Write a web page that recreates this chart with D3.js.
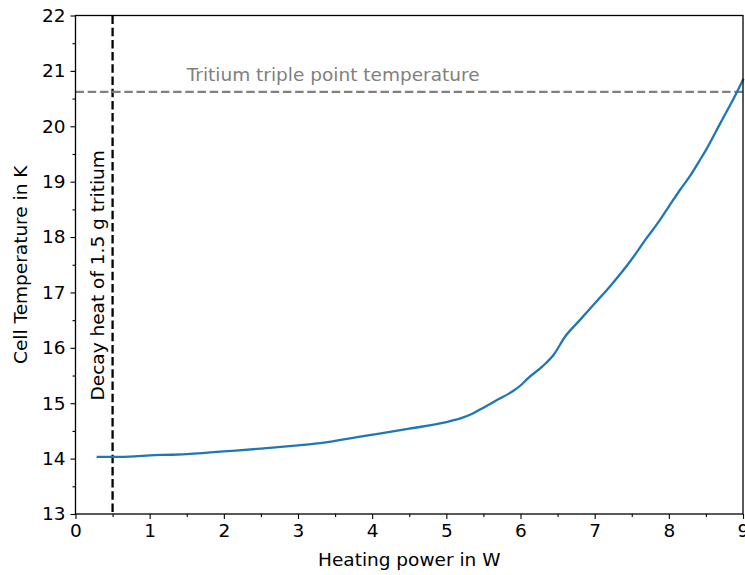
<!DOCTYPE html>
<html>
<head>
<meta charset="utf-8">
<style>
  body { margin: 0; background: white; }
  svg { font-family: 'DejaVu Sans', sans-serif; display: block; }
</style>
</head>
<body>
<div id="chart"></div>
<script src="https://d3js.org/d3.v7.min.js"></script>
<script>
// heating power (W) vs cell temperature (K)
const power = [0.3, 0.5, 0.8, 1.0, 1.3, 1.6, 2.0, 2.5, 3.0, 3.3, 3.9, 4.5, 5.0, 5.2, 5.35, 5.5, 5.7, 5.9, 6.0, 6.1, 6.3, 6.45, 6.6, 6.8, 7.0, 7.2, 7.5, 7.7, 7.85, 8.0, 8.15, 8.3, 8.4, 8.5, 8.7, 8.9, 9.0]
const temperature = [14.03, 14.03, 14.04, 14.06, 14.07, 14.09, 14.13, 14.18, 14.24, 14.28, 14.41, 14.54, 14.66, 14.73, 14.81, 14.92, 15.07, 15.22, 15.32, 15.45, 15.67, 15.88, 16.2, 16.5, 16.8, 17.1, 17.6, 17.98, 18.25, 18.55, 18.85, 19.13, 19.35, 19.57, 20.07, 20.57, 20.84]

const xTicks = d3.range(0, 10, 1)
const yTicks = d3.range(13, 23, 1)

const decayHeat = 0.5          // W, 1.5 g tritium
const triplePoint = 20.62      // K

const svgWidth = 745, svgHeight = 575
const margin = {left: 75.5, right: 2, top: 15.5, bottom: 61}
const width = svgWidth - margin.left - margin.right
const height = svgHeight - margin.top - margin.bottom

const svg = d3.select('#chart').append('svg')
    .attr('width', svgWidth)
    .attr('height', svgHeight)

const g = svg.append('g')
    .attr('transform', `translate(${margin.left},${margin.top})`)

const x = d3.scaleLinear().domain([0, 9]).range([0, width])
const y = d3.scaleLinear().domain([13, 22]).range([height, 0])

const fs = 18.5

// reference lines
g.append('line')
    .attr('x1', x(decayHeat)).attr('x2', x(decayHeat))
    .attr('y1', 0).attr('y2', height)
    .attr('stroke', 'black').attr('stroke-width', 2.3)
    .attr('stroke-dasharray', '8.5,3.7')

g.append('line')
    .attr('x1', 0).attr('x2', width)
    .attr('y1', y(triplePoint)).attr('y2', y(triplePoint))
    .attr('stroke', 'grey').attr('stroke-width', 2.3)
    .attr('stroke-dasharray', '8.5,3.7')

// curve
const data = power.map((p, i) => ({p: p, t: temperature[i]}))
const line = d3.line().x(d => x(d.p)).y(d => y(d.t)).curve(d3.curveMonotoneX)

g.append('path')
    .datum(data)
    .attr('d', line)
    .attr('fill', 'none')
    .attr('stroke', '#1f77b4')
    .attr('stroke-width', 2.3)
    .attr('stroke-linecap', 'square')

// annotations
g.append('text')
    .attr('x', x(1.5))
    .attr('y', y(20.82))
    .attr('fill', 'grey')
    .attr('font-size', fs)
    .text('Tritium triple point temperature')

g.append('text')
    .attr('transform', `translate(${x(0.39)},${y(15.05)}) rotate(-90)`)
    .attr('font-size', fs)
    .text('Decay heat of 1.5 g tritium')

// axes
g.append('g')
    .attr('transform', `translate(0,${height})`)
    .call(d3.axisBottom(x).tickValues(xTicks).tickFormat(d3.format('d')).tickSize(5).tickPadding(5))
g.append('g')
    .attr('transform', `translate(0,${height})`)
    .call(d3.axisBottom(x).tickValues(d3.range(0.5, 9, 1)).tickFormat('').tickSize(3))

g.append('g')
    .call(d3.axisLeft(y).tickValues(yTicks).tickFormat(d3.format('d')).tickSize(5).tickPadding(5))
g.append('g')
    .call(d3.axisLeft(y).tickValues(d3.range(13.5, 22, 1)).tickFormat('').tickSize(3))

svg.selectAll('.domain').remove()
svg.selectAll('.tick line').attr('stroke', 'black').attr('stroke-width', 1.1)
svg.selectAll('.tick text').attr('font-size', fs).attr('fill', 'black')
    .attr('font-family', "'DejaVu Sans', sans-serif")

// frame
g.append('rect')
    .attr('width', width).attr('height', height)
    .attr('fill', 'none').attr('stroke', 'black').attr('stroke-width', 1.3)

// axis labels
svg.append('text')
    .attr('x', margin.left + width / 2)
    .attr('y', 566)
    .attr('text-anchor', 'middle')
    .attr('font-size', fs)
    .text('Heating power in W')

svg.append('text')
    .attr('transform', `translate(27,${margin.top + height / 2}) rotate(-90)`)
    .attr('text-anchor', 'middle')
    .attr('font-size', fs)
    .text('Cell Temperature in K')
</script>
</body>
</html>
